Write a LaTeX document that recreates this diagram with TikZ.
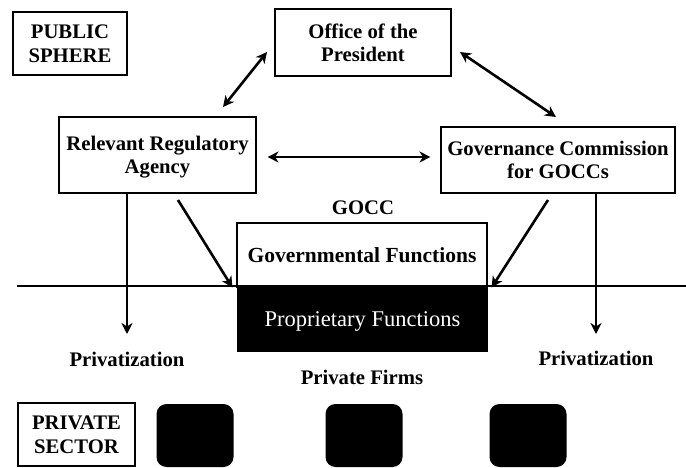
\documentclass[tikz,border=0pt]{standalone}
\usepackage{fontspec}
\setmainfont{Liberation Serif}
\usetikzlibrary{arrows.meta,calc}
\begin{document}
\begin{tikzpicture}[x=1pt,y=-1pt,
  every node/.style={font=\fontsize{20.7}{23.5}\selectfont\bfseries, align=center, inner sep=0pt, text depth=0pt},
  box/.style={draw, line width=1.1pt},
  sector/.style={draw, line width=2.6pt},
  firm/.style={fill=black, rounded corners=10pt, minimum width=77pt, minimum height=63pt},
  tip/.tip={Stealth[length=11pt,width=11pt,inset=3.5pt]},
  link/.style={line width=2.6pt, -tip},
  both/.style={line width=2.6pt, tip-tip}
]
\useasboundingbox (0,0) rectangle (686,468);

% sphere labels
\node[sector, minimum width=114pt, minimum height=63pt] (pub) at (70,43.5) {PUBLIC\\SPHERE};
\node[sector, minimum width=117pt, minimum height=63pt] (privsec) at (76.5,434.5) {PRIVATE\\SECTOR};

% public actors
\node[box, minimum width=176pt, minimum height=67pt] (office) at (363,42.5) {Office of the\\President};
\node[box, minimum width=197pt, minimum height=76pt] (rra) at (157.5,155) {Relevant Regulatory\\Agency};
\node[box, minimum width=234pt, minimum height=66pt] (gcg) at (558,160) {Governance Commission\\for GOCCs};

% the GOCC and its two kinds of functions
\node (gocc) at (363,208) {GOCC};
\node[box, minimum width=250pt, minimum height=64pt, font=\fontsize{21.5}{24}\selectfont\bfseries] (gov) at (362,255) {Governmental Functions};
\node[fill=black, text=white, minimum width=251pt, minimum height=66pt,
      font=\fontsize{22.5}{24}\selectfont] (prop) at (362.5,319) {Proprietary Functions};

% public / private divide
\coordinate (lineL) at (17,286);
\coordinate (lineR) at (686,286);
\draw[line width=2.2pt] (lineL) -- (lineR);

% private side
\node (privL) at (127,359) {Privatization};
\node (privR) at (596,358) {Privatization};
\node (firms) at (362,377) {Private Firms};
\node[firm] (f1) at (195,435.5) {};
\node[firm] (f2) at (364,435.5) {};
\node[firm] (f3) at (528,435.5) {};

% relations between actors
\coordinate (o1) at (267,52);
\coordinate (r1) at (223,107);
\coordinate (o2) at (460,52);
\coordinate (g1) at (556,117);
\draw[both] (r1) -- (o1);
\draw[both] (o2) -- (g1);
\draw[both] ($(rra.east)+(11,2)$) -- ($(gcg.west)+(-10,-3)$);

% oversight of the GOCC and privatization
\coordinate (dl) at (127,334);
\coordinate (dr) at (596,334);
\draw[link] (rra.south -| dl) -- (dl);
\draw[link] (gcg.south -| dr) -- (dr);
\coordinate (rs) at (178,200);
\coordinate (gs) at (548,200);
\draw[link] (rs) -- ($(gov.south west)+(-4,0)$);
\draw[link] (gs) -- ($(gov.south east)+(4,0)$);
\end{tikzpicture}
\end{document}
